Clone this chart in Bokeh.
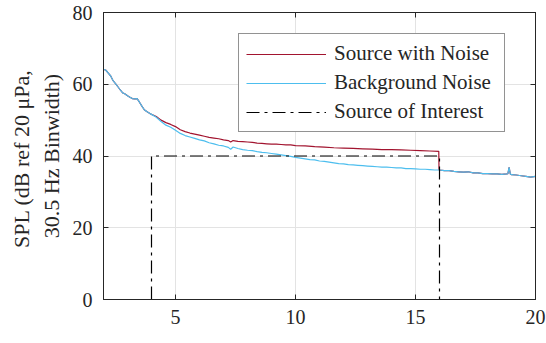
from bokeh.plotting import figure
from bokeh.models import LinearAxis, FixedTicker, Range1d, Legend, LegendItem
from bokeh.embed import file_html
from bokeh.resources import INLINE

# ---- data ----
bg_x = [2.0, 2.1, 2.2, 2.3, 2.4, 2.5, 2.6, 2.7, 2.8, 2.9, 3.0, 3.1, 3.2, 3.3, 3.4, 3.5, 3.6, 3.7, 3.8, 3.9,
        4.0, 4.2, 4.4, 4.6, 4.8, 5.0, 5.2, 5.4, 5.6, 5.8, 6.0, 6.2, 6.4, 6.6, 6.8, 7.0, 7.2, 7.3, 7.4,
        7.6, 7.8, 8.0, 8.2, 8.4, 8.6, 8.8, 9.0, 9.2, 9.4, 9.6, 9.8, 10.0, 10.2, 10.4, 10.6, 10.8, 11.0,
        11.2, 11.4, 11.6, 11.8, 12.0, 12.2, 12.4, 12.6, 12.8, 13.0, 13.2, 13.4, 13.6, 13.8, 14.0, 14.2,
        14.4, 14.6, 14.8, 15.0, 15.2, 15.4, 15.6, 15.8, 16.0, 16.2, 16.4, 16.6, 16.8, 17.0, 17.2, 17.4,
        17.6, 17.8, 18.0, 18.2, 18.4, 18.6, 18.8, 18.85, 18.9, 18.95, 19.0, 19.2, 19.4, 19.6, 19.8, 20.0]
bg_y = [64.2, 63.9, 63.1, 62.3, 61.0, 60.2, 59.3, 58.4, 57.6, 57.3, 56.8, 56.4, 56.0, 55.9, 56.0, 55.0, 53.9, 52.9, 52.4, 52.0,
        51.6, 50.8, 49.6, 48.6, 48.0, 47.2, 46.3, 45.7, 45.3, 44.9, 44.5, 44.2, 43.7, 43.4, 43.0, 42.8, 42.4, 41.9, 42.5,
        42.1, 41.8, 41.6, 41.5, 41.2, 41.0, 40.9, 40.7, 40.5, 40.3, 40.1, 39.9, 39.6, 39.4, 39.2, 39.0, 38.9, 38.6,
        38.5, 38.3, 38.1, 37.9, 37.8, 37.6, 37.5, 37.4, 37.3, 37.2, 37.1, 37.0, 36.9, 36.9, 36.8, 36.7,
        36.7, 36.5, 36.5, 36.4, 36.3, 36.3, 36.2, 36.1, 36.1, 35.9, 35.9, 35.7, 35.6, 35.5, 35.6, 35.3,
        35.3, 35.1, 35.1, 35.0, 35.0, 34.9, 35.0, 35.1, 36.8, 35.0, 34.8, 34.7, 34.5, 34.3, 34.1, 34.3]

src_x_mid = [4.2, 4.4, 4.6, 4.8, 5.0, 5.2, 5.4, 5.6, 5.8, 6.0, 6.2, 6.4, 6.6, 6.8, 7.0, 7.2, 7.3, 7.4,
             7.6, 7.8, 8.0, 8.2, 8.4, 8.6, 8.8, 9.0, 9.2, 9.4, 9.6, 9.8, 10.0, 10.4, 10.8, 11.2, 11.6,
             12.0, 12.4, 12.8, 13.2, 13.6, 14.0, 14.4, 14.8, 15.2, 15.6, 15.97, 15.98]
src_y_mid = [51.0, 50.0, 49.3, 48.8, 48.2, 47.3, 46.8, 46.4, 46.1, 45.8, 45.5, 45.2, 45.0, 44.8, 44.5, 44.3, 43.9, 44.3,
             44.1, 44.0, 43.9, 43.8, 43.6, 43.5, 43.4, 43.3, 43.3, 43.2, 43.1, 43.1, 42.9, 42.8, 42.6, 42.5, 42.3,
             42.2, 42.1, 42.0, 41.9, 41.8, 41.8, 41.7, 41.6, 41.5, 41.4, 41.3, 36.1]

soi_x = [4, 4, 16, 16]
soi_y = [0, 40, 40, 0]

x_ticks = [5, 10, 15, 20]
y_ticks = [0, 20, 40, 60, 80]
series_names = ["Source with Noise", "Background Noise", "Source of Interest"]
y_label = "SPL (dB ref 20  \u03bcPa,\n30.5 Hz Binwidth)"

# source with noise = background below 4.1, own values in 4.2..16, background after 16
src_x = [x for x in bg_x if x <= 4.0] + src_x_mid + [x for x in bg_x if x >= 16.0]
src_y = [y for x, y in zip(bg_x, bg_y) if x <= 4.0] + src_y_mid + [y for x, y in zip(bg_x, bg_y) if x >= 16.0]

FONT = "Liberation Serif"
TXT = "#262626"

p = figure(width=546, height=343, output_backend="svg", toolbar_location=None,
           x_range=Range1d(2, 20), y_range=Range1d(0, 80),
           min_border_left=103, min_border_right=11, min_border_top=12, min_border_bottom=44)
p.background_fill_color = "white"
p.border_fill_color = "white"
p.outline_line_color = TXT
p.outline_line_width = 1

for ax, ticks in ((p.xaxis[0], x_ticks), (p.yaxis[0], y_ticks)):
    ax.ticker = FixedTicker(ticks=ticks)
    ax.major_tick_in = 5
    ax.major_tick_out = 0
    ax.minor_tick_line_color = None
    ax.axis_line_color = TXT
    ax.major_tick_line_color = TXT
    ax.major_label_text_font = FONT
    ax.major_label_text_font_size = "20px"
    ax.major_label_text_color = TXT

p.xaxis.major_label_standoff = 10
p.yaxis.major_label_standoff = 11
p.yaxis.axis_label = y_label
p.yaxis.axis_label_text_font = FONT
p.yaxis.axis_label_text_font_size = "22px"
p.yaxis.axis_label_text_font_style = "normal"
p.yaxis.axis_label_text_color = TXT
p.yaxis.axis_label_text_line_height = 1.2
p.yaxis.axis_label_standoff = 6

# extra axes right/top with inward ticks
for loc, ticks in (("right", y_ticks), ("above", x_ticks)):
    a = LinearAxis(ticker=FixedTicker(ticks=ticks), major_tick_in=5, major_tick_out=0,
                   minor_tick_line_color=None, axis_line_color=TXT, major_tick_line_color=TXT,
                   major_label_text_font_size="0px", major_label_standoff=0)
    a.major_label_overrides = {t: "" for t in ticks}
    p.add_layout(a, loc)

p.xgrid.ticker = FixedTicker(ticks=x_ticks)
p.ygrid.ticker = FixedTicker(ticks=y_ticks)
p.xgrid.grid_line_color = "#e3e3e3"
p.ygrid.grid_line_color = "#e3e3e3"

r_src = p.line(src_x, src_y, line_color="#A2142F", line_width=1.2)
r_bg = p.line(bg_x, bg_y, line_color="#4DBEEE", line_width=1.2)
r_soi = p.line(soi_x, soi_y, line_color="black", line_width=1.2, line_dash="13 5 3 5")

legend = Legend(items=[LegendItem(label=series_names[0], renderers=[r_src]),
                       LegendItem(label=series_names[1], renderers=[r_bg]),
                       LegendItem(label=series_names[2], renderers=[r_soi])],
                location=(135, 167))
legend.label_text_font = FONT
legend.label_text_font_size = "21px"
legend.label_text_color = TXT
legend.glyph_width = 80
legend.glyph_height = 24
legend.label_height = 24
legend.label_width = 163
legend.spacing = 4
legend.padding = 7
legend.margin = 0
legend.label_standoff = 8
legend.border_line_color = TXT
legend.border_line_width = 1
legend.background_fill_alpha = 1
p.add_layout(legend, "center")

open("out.html", "w").write(file_html(p, INLINE))
